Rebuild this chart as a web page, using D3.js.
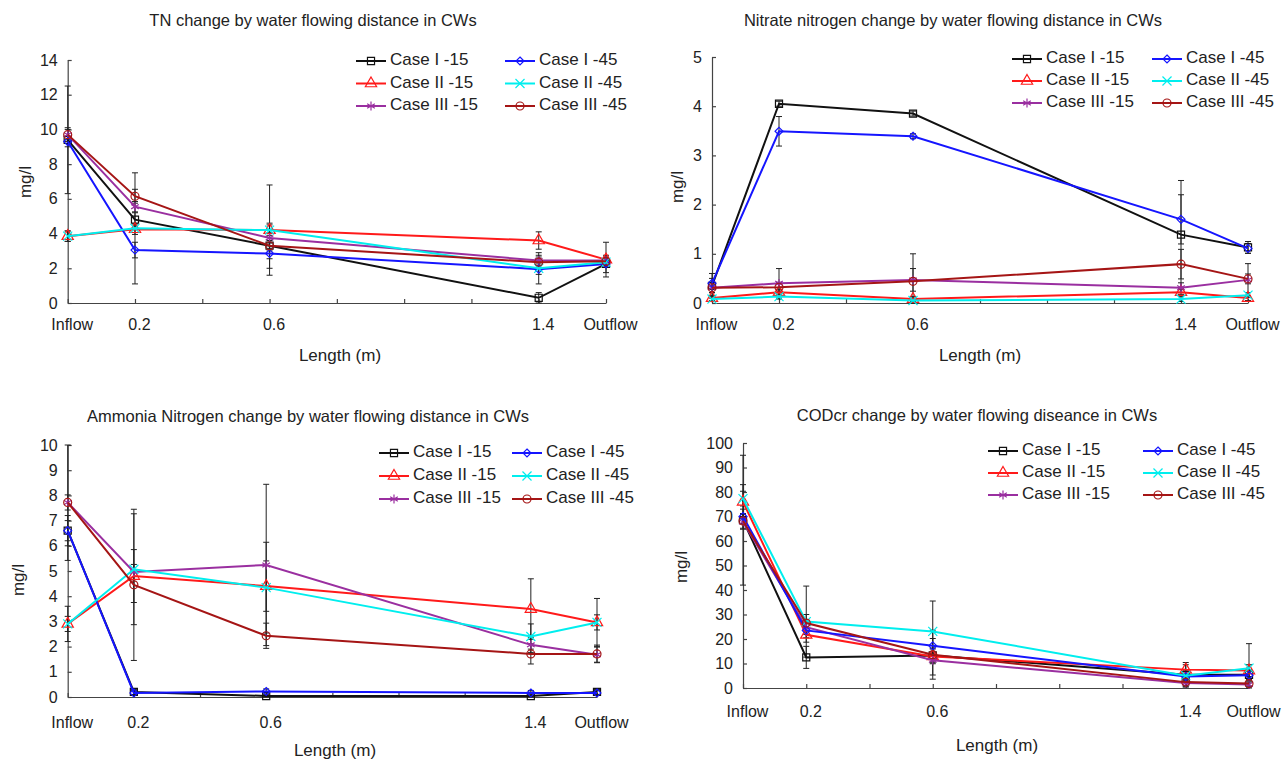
<!DOCTYPE html>
<html>
<head>
<meta charset="utf-8">
<script src="https://cdn.jsdelivr.net/npm/d3@7"></script>
<style>
  body { margin: 0; background: #fff; }
  svg text { font-family: "Liberation Sans", Arial, sans-serif; fill: #222; }
  .axis path, .axis line { stroke: #444; stroke-width: 1.2; }
  .axis text { font-size: 16px; }
</style>
</head>
<body>
<div id="chart"></div>
<script>
// shared categories
var xLabels = ["Inflow", "0.2", "0.6", "1.4", "Outflow"];
var xPositions = [0, 0.2, 0.6, 1.4, 1.6];
var seriesNames = ["Case I -15", "Case II -15", "Case III -15", "Case I -45", "Case II -45", "Case III -45"];
var seriesColors = ["#111111", "#ff1a1a", "#9a2fa0", "#1515ff", "#00eeee", "#a51515"];

// TN (mg/l), rows follow seriesNames
var tnValues = [
  [9.4, 4.8, 3.3, 0.3, 2.25],
  [3.85, 4.25, 4.2, 3.6, 2.5],
  [9.7, 5.55, 3.75, 2.45, 2.45],
  [9.3, 3.05, 2.85, 1.95, 2.25],
  [3.85, 4.3, 4.2, 2.0, 2.35],
  [9.7, 6.15, 3.3, 2.35, 2.4]
];
var tnErrors = [
  [3.1, 0.4, 1.3, 0.3, 0.5],
  [0.3, 0.3, 2.6, 0.5, 1.0],
  [0.4, 0.3, 0.3, 0.3, 0.2],
  [0.3, 0.45, 0.3, 0.3, 0.2],
  [0.3, 3.2, 0.3, 0.9, 0.2],
  [0.3, 0.4, 0.3, 0.3, 0.2]
];

// Nitrate nitrogen (mg/l)
var no3Values = [
  [0.35, 4.05, 3.85, 1.39, 1.13],
  [0.1, 0.22, 0.08, 0.22, 0.1],
  [0.31, 0.4, 0.47, 0.31, 0.47],
  [0.4, 3.49, 3.39, 1.7, 1.11],
  [0.08, 0.13, 0.05, 0.08, 0.16],
  [0.31, 0.32, 0.44, 0.79, 0.49]
];
var no3Errors = [
  [0.25, 0.05, 0.05, 1.1, 0.12],
  [0.05, 0.05, 0.05, 0.05, 0.05],
  [0.1, 0.3, 0.23, 0.1, 0.33],
  [0.1, 0.3, 0.05, 0.5, 0.1],
  [0.05, 0.05, 0.05, 0.05, 0.05],
  [0.1, 0.1, 0.56, 0.3, 0.1]
];

// Ammonia nitrogen (mg/l)
var nh4Values = [
  [6.6, 0.2, 0.04, 0.04, 0.2],
  [2.9, 4.8, 4.4, 3.49, 2.96],
  [7.72, 4.96, 5.24, 2.07, 1.68],
  [6.6, 0.16, 0.22, 0.16, 0.16],
  [2.9, 5.07, 4.34, 2.4, 2.96],
  [7.72, 4.45, 2.43, 1.71, 1.71]
];
var nh4Errors = [
  [0.6, 0.1, 0.05, 0.05, 0.1],
  [0.7, 1.05, 1.0, 1.2, 0.95],
  [2.3, 0.3, 3.2, 0.3, 0.3],
  [0.4, 0.1, 0.1, 0.1, 0.1],
  [0.3, 2.2, 1.8, 0.5, 0.3],
  [0.3, 3.0, 0.5, 0.4, 0.35]
];

// CODcr (mg/l)
var codValues = [
  [68.5, 12.5, 13.3, 5.4, 5.4],
  [76, 21.7, 12.9, 7.5, 7.1],
  [67.8, 24.8, 11.3, 2.0, 1.4],
  [70, 23.5, 17.2, 4.7, 5.2],
  [77.3, 27.1, 23.1, 5.0, 8.1],
  [68.2, 26.5, 13.6, 2.4, 1.8]
];
var codErrors = [
  [26.5, 4.5, 3, 5, 2],
  [7, 3, 3, 2, 2.4],
  [3, 3, 6, 1.5, 1],
  [3, 3, 3, 2, 2],
  [3, 14.5, 12.4, 2, 10],
  [3, 3.5, 10, 1.5, 1]
];

var symbols = [d3.symbolSquare, d3.symbolTriangle, d3.symbolAsterisk,
               d3.symbolDiamond2, d3.symbolTimes, d3.symbolCircle];
var symbolSizes = [50, 55, 55, 40, 55, 50];

var svg = d3.select("#chart").append("svg")
  .attr("width", 1288)
  .attr("height", 761);

// one panel: geometry is in pixels of the page
function drawPanel(p) {
  var x = d3.scaleLinear().domain([0, 1.6]).range([p.left, p.right]);
  var y = d3.scaleLinear().domain([0, p.yMax]).range([p.bottom, p.top]);
  var g = svg.append("g");

  // title
  g.append("text")
    .attr("x", p.titleX).attr("y", p.titleY)
    .attr("text-anchor", "middle")
    .attr("dominant-baseline", "middle")
    .style("font-size", "16.5px")
    .text(p.title);

  // axes
  var xAxis = d3.axisBottom(x)
    .tickValues(d3.range(0, 1.61, 0.2))
    .tickSize(-4).tickSizeOuter(0).tickPadding(p.xPad)
    .tickFormat(function(d) {
      var i = xPositions.findIndex(function(v) { return Math.abs(v - d) < 1e-6; });
      return i < 0 ? "" : xLabels[i];
    });
  g.append("g").attr("class", "axis")
    .attr("transform", "translate(0," + p.bottom + ")")
    .call(xAxis)
    .selectAll("text").attr("dx", "4");

  var yAxis = d3.axisLeft(y)
    .ticks(p.yTicks)
    .tickSize(-4).tickSizeOuter(0).tickPadding(10);
  g.append("g").attr("class", "axis")
    .attr("transform", "translate(" + p.left + ",0)")
    .call(yAxis);

  // axis titles
  g.append("text")
    .attr("transform", "translate(" + p.yLabelX + "," + p.yLabelY + ") rotate(-90)")
    .attr("text-anchor", "middle")
    .attr("dominant-baseline", "middle")
    .style("font-size", "17px")
    .text("mg/l");
  g.append("text")
    .attr("x", p.xLabelX).attr("y", p.xLabelY)
    .attr("text-anchor", "middle")
    .attr("dominant-baseline", "middle")
    .style("font-size", "17px")
    .text("Length (m)");

  // error bars
  p.values.forEach(function(row, s) {
    row.forEach(function(v, i) {
      var e = p.errors[s][i];
      var hi = Math.min(v + e, p.yMax), lo = Math.max(v - e, 0);
      var cx = x(xPositions[i]);
      var eb = g.append("g").attr("stroke", "#222").attr("stroke-width", 1);
      eb.append("line").attr("x1", cx).attr("x2", cx).attr("y1", y(hi)).attr("y2", y(lo));
      eb.append("line").attr("x1", cx - 3).attr("x2", cx + 3).attr("y1", y(hi)).attr("y2", y(hi));
      eb.append("line").attr("x1", cx - 3).attr("x2", cx + 3).attr("y1", y(lo)).attr("y2", y(lo));
    });
  });

  // lines + markers
  var line = d3.line()
    .x(function(d, i) { return x(xPositions[i]); })
    .y(function(d) { return y(d); });

  p.values.forEach(function(row, s) {
    g.append("path")
      .datum(row)
      .attr("fill", "none")
      .attr("stroke", seriesColors[s])
      .attr("stroke-width", 2)
      .attr("d", line);
    g.selectAll(null)
      .data(row)
      .enter()
      .append("path")
      .attr("transform", function(d, i) { return "translate(" + x(xPositions[i]) + "," + y(d) + ")"; })
      .attr("d", d3.symbol().type(symbols[s]).size(symbolSizes[s]))
      .attr("fill", "none")
      .attr("stroke", seriesColors[s])
      .attr("stroke-width", 1.2);
  });

  // legend: two columns of three
  seriesNames.forEach(function(name, s) {
    var col = Math.floor(s / 3), row = s % 3;
    var lx = p.legX[col], ly = p.legY + row * p.legDy;
    var lg = g.append("g").attr("transform", "translate(" + lx + "," + ly + ")");
    lg.append("line")
      .attr("x1", 0).attr("x2", 30)
      .attr("stroke", seriesColors[s]).attr("stroke-width", 2);
    lg.append("path")
      .attr("transform", "translate(15,0)")
      .attr("d", d3.symbol().type(symbols[s]).size(symbolSizes[s]))
      .attr("fill", "none")
      .attr("stroke", seriesColors[s])
      .attr("stroke-width", 1.2);
    lg.append("text")
      .attr("x", 34)
      .attr("dominant-baseline", "middle")
      .style("font-size", "17px")
      .text(name);
  });
}

drawPanel({
  title: "TN change by water flowing distance in CWs", titleX: 313, titleY: 22,
  left: 67.7, right: 606, top: 60, bottom: 303, yMax: 14, yTicks: 7, xPad: 16,
  yLabelX: 27, yLabelY: 182, xLabelX: 340, xLabelY: 357,
  legX: [356, 505], legY: 61, legDy: 22.5,
  values: tnValues, errors: tnErrors
});

drawPanel({
  title: "Nitrate nitrogen change by water flowing distance in CWs", titleX: 953, titleY: 22,
  left: 712, right: 1248, top: 57, bottom: 303, yMax: 5, yTicks: 5, xPad: 16,
  yLabelX: 679, yLabelY: 187, xLabelX: 980, xLabelY: 357,
  legX: [1012, 1152], legY: 59, legDy: 22,
  values: no3Values, errors: no3Errors
});

drawPanel({
  title: "Ammonia Nitrogen change by water flowing distance in CWs", titleX: 308, titleY: 418,
  left: 67.7, right: 597, top: 445, bottom: 697, yMax: 10, yTicks: 10, xPad: 20,
  yLabelX: 20, yLabelY: 580, xLabelX: 335, xLabelY: 752,
  legX: [379, 512], legY: 453, legDy: 23,
  values: nh4Values, errors: nh4Errors
});

drawPanel({
  title: "CODcr change by water flowing diseance in CWs", titleX: 977, titleY: 417,
  left: 743, right: 1249, top: 443, bottom: 688, yMax: 100, yTicks: 10, xPad: 18,
  yLabelX: 683, yLabelY: 567, xLabelX: 997, xLabelY: 747,
  legX: [988, 1143], legY: 451, legDy: 22,
  values: codValues, errors: codErrors
});
</script>
</body>
</html>
